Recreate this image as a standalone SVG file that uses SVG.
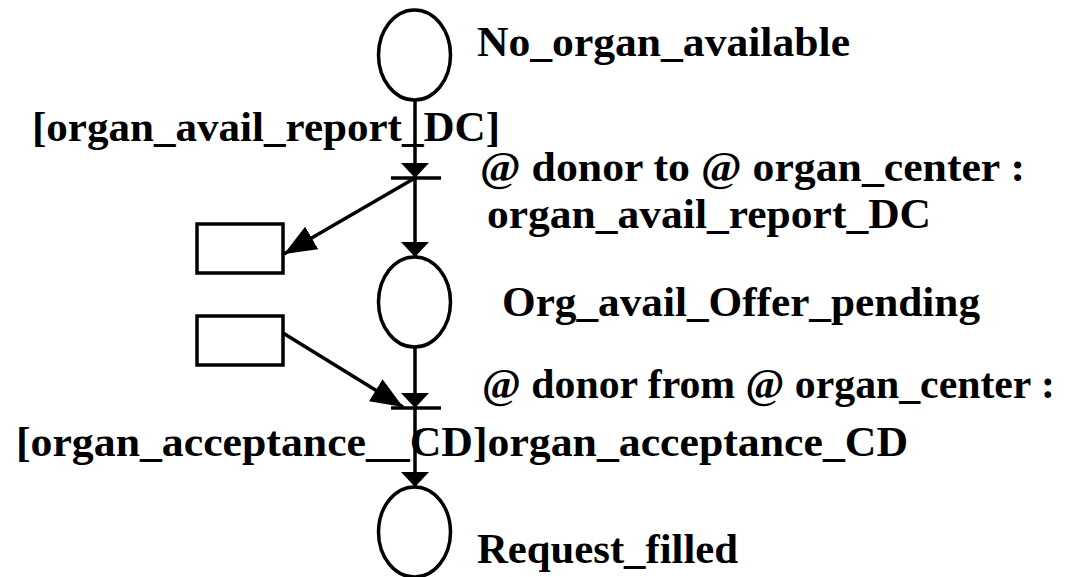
<svg xmlns="http://www.w3.org/2000/svg" width="1082" height="577" viewBox="0 0 1082 577">
<style>
.p{fill:#fff;stroke:#000;stroke-width:3.5}
.t{font-family:'Liberation Serif','Times New Roman',serif;font-weight:bold;font-size:43px;fill:#000}
.c{stroke:#000;stroke-width:3.5;fill:none}
.bar{stroke:#000;stroke-width:3.5}
</style>
<defs>
<marker id="av" viewBox="0 0 15 28" refX="15" refY="14" markerWidth="15" markerHeight="28" markerUnits="userSpaceOnUse" orient="auto">
<path d="M0,0 L15,14 L0,28 Z" fill="#000"/>
</marker>
<marker id="ad" viewBox="0 0 32 26" refX="32" refY="13" markerWidth="32" markerHeight="26" markerUnits="userSpaceOnUse" orient="auto">
<path d="M0,0 L32,13 L0,26 Z" fill="#000"/>
</marker>
</defs>
<g id="connectors">
<line class="c" x1="415" y1="100" x2="415" y2="178" marker-end="url(#av)"/>
<line class="c" x1="415" y1="178" x2="415" y2="257" marker-end="url(#av)"/>
<line class="c" x1="415" y1="178" x2="284" y2="254" marker-end="url(#ad)"/>
<line class="c" x1="415" y1="347" x2="415" y2="408" marker-end="url(#av)"/>
<line class="c" x1="283" y1="333" x2="403" y2="407" marker-end="url(#ad)"/>
<line class="c" x1="415" y1="408" x2="415" y2="487" marker-end="url(#av)"/>
</g>
<g id="place1"><ellipse class="p" cx="414.5" cy="55" rx="36" ry="45"/><text class="t" x="477" y="56" textLength="373" lengthAdjust="spacingAndGlyphs">No_organ_available</text></g>
<g id="trans1"><line class="bar" x1="391" y1="178" x2="441" y2="178"/>
<text class="t" x="32" y="141" textLength="468" lengthAdjust="spacingAndGlyphs">[organ_avail_report_DC]</text>
<text class="t" x="480" y="181" textLength="545" lengthAdjust="spacingAndGlyphs">@ donor to @ organ_center :</text>
<text class="t" x="487" y="228" textLength="444" lengthAdjust="spacingAndGlyphs">organ_avail_report_DC</text></g>
<g id="msg1"><rect class="p" x="197" y="224" width="86" height="49"/></g>
<g id="place2"><ellipse class="p" cx="414.5" cy="302" rx="36" ry="45"/><text class="t" x="502" y="316" textLength="478" lengthAdjust="spacingAndGlyphs">Org_avail_Offer_pending</text></g>
<g id="msg2"><rect class="p" x="197" y="316" width="86" height="49"/></g>
<g id="trans2"><line class="bar" x1="391" y1="408" x2="441" y2="408"/>
<text class="t" x="482" y="398" textLength="573" lengthAdjust="spacingAndGlyphs">@ donor from @ organ_center :</text>
<text class="t" x="16" y="456" textLength="892" lengthAdjust="spacingAndGlyphs">[organ_acceptance__CD]organ_acceptance_CD</text></g>
<g id="place3"><ellipse class="p" cx="414.5" cy="532" rx="36" ry="45"/><text class="t" x="477" y="563" textLength="261" lengthAdjust="spacingAndGlyphs">Request_filled</text></g>
</svg>
